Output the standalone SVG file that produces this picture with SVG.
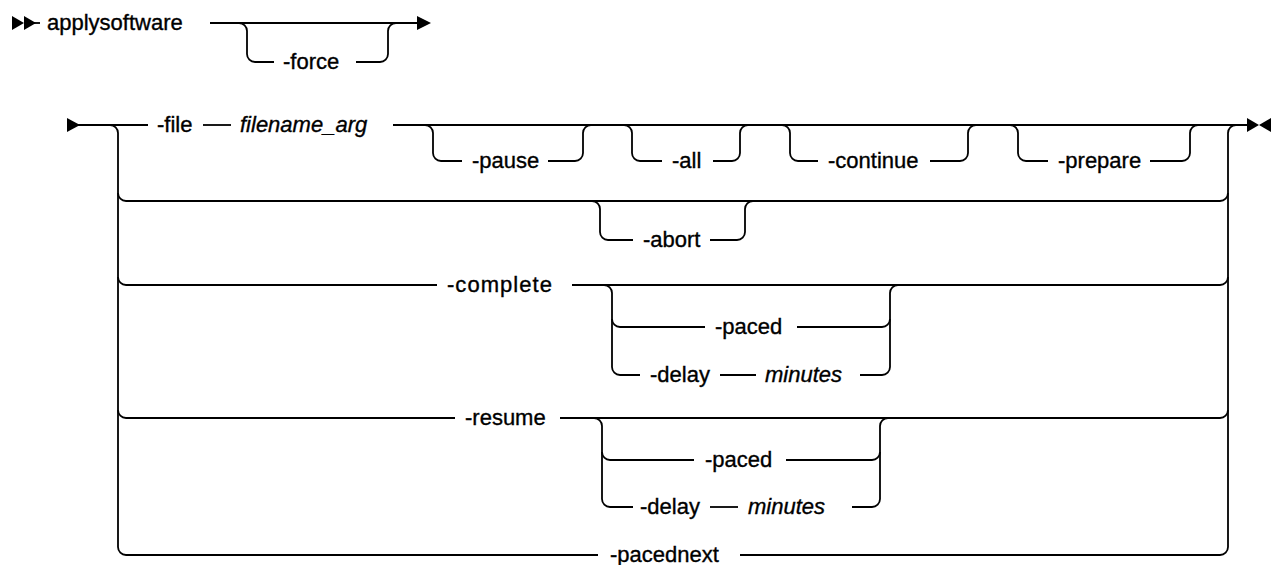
<svg xmlns="http://www.w3.org/2000/svg" width="1274" height="565" viewBox="0 0 1274 565">
<style>
.ln{fill:none;stroke:#000;stroke-width:1.8}
.ah{fill:#000}
text{font-family:"Liberation Sans",Arial,sans-serif;font-size:22px;fill:#000;stroke:#000;stroke-width:0.35}
.v{font-style:italic}
</style>
<rect width="1274" height="565" fill="#fff"/>
<g id="connectors">
<!-- top diagram -->
<polygon class="ah" points="12,16 24,23 12,30"/>
<polygon class="ah" points="24,16 36,23 24,30"/>
<path class="ln" d="M34 23 H40"/>
<path class="ln" d="M210 23 H420"/>
<polygon class="ah" points="417,16 431,23 417,30"/>
<path class="ln" d="M239 23 A8 8 0 0 1 247 31 V54 A8 8 0 0 0 255 62 H274"/>
<path class="ln" d="M356 62 H380 A8 8 0 0 0 388 54 V31 A8 8 0 0 1 396 23"/>
<!-- second diagram -->
<polygon class="ah" points="67,118 80,125 67,132"/>
<path class="ln" d="M78 125 H148"/>
<path class="ln" d="M203 125 H231"/>
<path class="ln" d="M393 125 H1250"/>
<polygon class="ah" points="1247,118 1259,125 1247,132"/>
<polygon class="ah" points="1271,118 1259,125 1271,132"/>
<path class="ln" d="M110 125 A8 8 0 0 1 118 133 V547 A8 8 0 0 0 126 555 H598"/>
<path class="ln" d="M740 555 H1220 A8 8 0 0 0 1228 547 V133 A8 8 0 0 1 1236 125"/>
<path class="ln" d="M118 193 A8 8 0 0 0 126 201 H1220 A8 8 0 0 0 1228 193"/>
<path class="ln" d="M118 277 A8 8 0 0 0 126 285 H437"/>
<path class="ln" d="M572 285 H1220 A8 8 0 0 0 1228 277"/>
<path class="ln" d="M118 410 A8 8 0 0 0 126 418 H455"/>
<path class="ln" d="M560 418 H1220 A8 8 0 0 0 1228 410"/>
<!-- optional branches row 1 -->
<path class="ln" d="M425 125 A8 8 0 0 1 433 133 V153 A8 8 0 0 0 441 161 H462"/>
<path class="ln" d="M548 161 H575 A8 8 0 0 0 583 153 V133 A8 8 0 0 1 591 125"/>
<path class="ln" d="M624 125 A8 8 0 0 1 632 133 V153 A8 8 0 0 0 640 161 H662"/>
<path class="ln" d="M713 161 H732 A8 8 0 0 0 740 153 V133 A8 8 0 0 1 748 125"/>
<path class="ln" d="M782 125 A8 8 0 0 1 790 133 V153 A8 8 0 0 0 798 161 H818"/>
<path class="ln" d="M930 161 H960 A8 8 0 0 0 968 153 V133 A8 8 0 0 1 976 125"/>
<path class="ln" d="M1010 125 A8 8 0 0 1 1018 133 V153 A8 8 0 0 0 1026 161 H1048"/>
<path class="ln" d="M1150 161 H1182 A8 8 0 0 0 1190 153 V133 A8 8 0 0 1 1198 125"/>
<!-- abort -->
<path class="ln" d="M592 201 A8 8 0 0 1 600 209 V232 A8 8 0 0 0 608 240 H633"/>
<path class="ln" d="M710 240 H737 A8 8 0 0 0 745 232 V209 A8 8 0 0 1 753 201"/>
<!-- complete options -->
<path class="ln" d="M604 285 A8 8 0 0 1 612 293 V367 A8 8 0 0 0 620 375 H640"/>
<path class="ln" d="M612 319 A8 8 0 0 0 620 327 H705"/>
<path class="ln" d="M797 327 H882 A8 8 0 0 0 890 319"/>
<path class="ln" d="M720 375 H756"/>
<path class="ln" d="M860 375 H882 A8 8 0 0 0 890 367 V293 A8 8 0 0 1 898 285"/>
<!-- resume options -->
<path class="ln" d="M594 418 A8 8 0 0 1 602 426 V499 A8 8 0 0 0 610 507 H633"/>
<path class="ln" d="M602 452 A8 8 0 0 0 610 460 H694"/>
<path class="ln" d="M786 460 H872 A8 8 0 0 0 880 452"/>
<path class="ln" d="M710 507 H738"/>
<path class="ln" d="M852 507 H872 A8 8 0 0 0 880 499 V426 A8 8 0 0 1 888 418"/>
</g>
<g id="n-applysoftware"><text x="47" y="30">applysoftware</text></g>
<g id="n-force"><text x="283" y="69">-force</text></g>
<g id="n-file"><text x="157" y="132">-file</text></g>
<g id="n-filename_arg"><text class="v" x="240" y="132">filename_arg</text></g>
<g id="n-pause"><text x="472" y="168">-pause</text></g>
<g id="n-all"><text x="672" y="168">-all</text></g>
<g id="n-continue"><text x="828" y="168">-continue</text></g>
<g id="n-prepare"><text x="1058" y="168">-prepare</text></g>
<g id="n-abort"><text x="643" y="247">-abort</text></g>
<g id="n-complete"><text x="447" y="292" textLength="105">-complete</text></g>
<g id="n-paced1"><text x="715" y="334">-paced</text></g>
<g id="n-delay1"><text x="650" y="382">-delay</text></g>
<g id="n-minutes1"><text class="v" x="765" y="382">minutes</text></g>
<g id="n-resume"><text x="465" y="425">-resume</text></g>
<g id="n-paced2"><text x="705" y="467">-paced</text></g>
<g id="n-delay2"><text x="640" y="514">-delay</text></g>
<g id="n-minutes2"><text class="v" x="748" y="514">minutes</text></g>
<g id="n-pacednext"><text x="610" y="562">-pacednext</text></g>
</svg>
